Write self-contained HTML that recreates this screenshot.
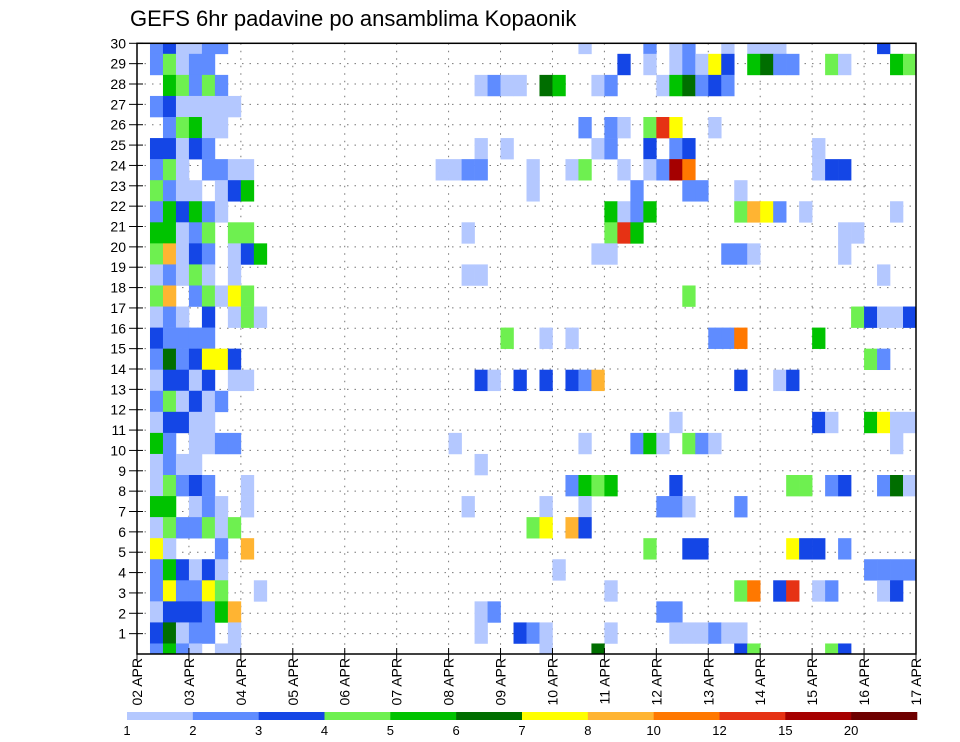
<!DOCTYPE html>
<html><head><meta charset="utf-8"><title>GEFS 6hr padavine</title>
<style>body{margin:0;background:#fff}svg{display:block;font-family:"Liberation Sans",sans-serif}</style></head>
<body>
<svg id="chart" width="960" height="742" viewBox="0 0 960 742">
<rect width="960" height="742" fill="#fff"/>
<text x="130" y="26" font-size="22" fill="#000">GEFS 6hr padavine po ansamblima Kopaonik</text>
<defs><clipPath id="pc"><rect x="137" y="43.3" width="779" height="610.7"/></clipPath></defs>
<g id="grid"></g>
<g id="cells" clip-path="url(#pc)"></g>
<rect x="137" y="43.3" width="779" height="610.7" fill="none" stroke="#000" stroke-width="1.5"/>
<g id="yaxis"></g>
<g id="xaxis"></g>
<g id="cbar"></g>
</svg>
<script>
// Ensemble rows (top to bottom), tokens "<timestep><class>"
const members = [
"1b 2c 3a 4a 5b 6b 34a 39b 41a 42b 45a 47a 48a 49a 57c",
"1b 2d 3a 4b 5b 37c 39a 41a 42b 43a 44g 45c 47e 48f 49b 50b 53d 54a 58e 59d",
"2e 3d 4b 5d 6b 26a 27b 28a 29a 31f 32e 35a 36b 40a 41e 42f 43b 44c 45b",
"1b 2c 3a 4a 5a 6a 7a",
"2b 3d 4e 5a 6a 34b 36b 37a 39d 40j 41g 44a",
"1c 2c 3a 4c 5b 26a 28a 35a 36b 39c 41b 42c 52a",
"1b 2d 3a 5b 6b 7a 8a 23a 24a 25b 26b 30a 33a 34d 37a 39a 40b 41k 42i 52a 53c 54c",
"1d 2b 3a 4a 6a 7c 8e 30a 38b 42b 43b 46a",
"1b 2e 3c 4e 5b 6a 36e 37a 38b 39e 46d 47h 48g 49b 51a 58a",
"1e 2e 3a 4b 5d 7d 8d 25a 36d 37j 38e 54a 55a",
"1d 2h 3a 4c 5b 7a 8c 9e 35a 36a 45b 46b 47a 54a",
"1a 2b 3a 4d 5a 7a 25a 26a 57a",
"1d 2h 4b 5d 6a 7g 8d 42d",
"1a 2b 3a 5c 7a 8d 9a 55d 56c 57a 58a 59c",
"1c 2b 3b 4b 5b 28d 31a 33a 44b 45b 46i 52e",
"1b 2f 3b 4c 5g 6g 7c 56d 57b",
"1a 2c 3c 4a 5c 7a 8a 26c 27a 29c 31c 33c 34b 35h 46c 49a 50c",
"1b 2d 3a 4c 5a 6b",
"1a 2c 3c 4a 5a 41a 52c 53a 56e 57g 58a 59a",
"1e 2b 4a 5a 6b 7b 24a 34a 38b 39e 40a 42d 43b 44a 58a",
"1a 2b 3a 4a 26a",
"1a 2d 3b 4c 5b 8a 33b 34e 35d 36e 41c 50d 51d 53b 54c 57b 58f 59a",
"1e 2e 4a 5b 6a 8a 25a 31a 34a 40b 41b 42a 46b",
"1a 2d 3b 4b 5d 6a 7d 30d 31g 33h 34c",
"1g 2a 6b 8h 39d 42c 43c 50g 51c 52c 54b",
"1b 2e 3c 4a 5c 6a 32a 56b 57b 58b 59b",
"1b 2g 3b 4b 5g 6d 9a 36a 46d 47i 49c 50j 52a 53b 57a 58c",
"1a 2c 3c 4c 5b 6e 7h 26a 27b 40b 41b",
"1c 2f 3a 4b 5b 7a 26a 29c 30b 31a 36a 41a 42a 43a 44b 45a 46a",
"1b 2e 3b 4a 6a 7a 31a 35f 46c 47d 53d 54c"
];
const classKeys = ["a","b","c","d","e","f","g","h","i","j","k","l"];
const classColors = ["#b4c8ff","#5f8cff","#1446e6","#6ef050","#00c300","#006e00","#ffff00","#ffb432","#ff7800","#e63214","#a50000","#6e0000"];
const colorbarLabels = ["1","2","3","4","5","6","7","8","10","12","15","20"];
const yTickLabels = ["1","2","3","4","5","6","7","8","9","10","11","12","13","14","15","16","17","18","19","20","21","22","23","24","25","26","27","28","29","30"];
const dayLabels = ["02","03","04","05","06","07","08","09","10","11","12","13","14","15","16","17"];

const NS="http://www.w3.org/2000/svg";
const X0=137,X1=916,Y0=43.3,Y1=654;
const nSteps=60;
function xScale(t){return X0+t*(X1-X0)/nSteps;}
const rowH=(Y1-Y0)/(members.length-1);
function rowY(i){return Y0+i*rowH;}
function tickY(v){return Y1-v*(Y1-Y0)/30;}
function mk(tag,attrs,parent){const e=document.createElementNS(NS,tag);for(const k in attrs)e.setAttribute(k,attrs[k]);parent.appendChild(e);return e;}

const grid=document.getElementById('grid');
for(let d=1;d<dayLabels.length-1;d++){
  const l=mk('line',{x1:xScale(d*4),x2:xScale(d*4),y1:Y0,y2:Y1,stroke:'#777','stroke-width':1,'stroke-dasharray':'1.5,6'},grid);
  
  
}
for(let v=1;v<30;v++){
  const l=mk('line',{x1:X0,x2:X1,y1:tickY(v),y2:tickY(v),stroke:'#777','stroke-width':1,'stroke-dasharray':'1.5,6'},grid);
  
  
}

const cells=document.getElementById('cells');
members.forEach((row,i)=>{
  row.split(/\s+/).filter(Boolean).forEach(tok=>{
    const t=parseInt(tok,10);const c=tok.replace(/[0-9]/g,'');
    const idx=classKeys.indexOf(c);
    const r=mk('rect',{x:xScale(t),y:rowY(i)-rowH/2,width:(X1-X0)/nSteps+0.3,height:rowH+0.3,fill:classColors[idx]},cells);
    
    
  });
});

const ya=document.getElementById('yaxis');
yTickLabels.forEach((lab,k)=>{
  const y=tickY(k+1);
  const tl=mk('line',{x1:X0-8,x2:X0+6,y1:y,y2:y,stroke:'#000','stroke-width':1},ya);
  
  
  const tx=mk('text',{x:X0-11,y:y+5,'text-anchor':'end','font-size':14,fill:'#000'},ya);
  tx.textContent=lab;
  
  
});

const xa=document.getElementById('xaxis');
dayLabels.forEach((d,k)=>{
  const x=xScale(k*4);
  const tl=mk('line',{x1:x,x2:x,y1:Y1-6,y2:Y1+6,stroke:'#000','stroke-width':1},xa);
  
  
  const tx=mk('text',{x:x+5,y:658,'text-anchor':'end','font-size':14,fill:'#000',transform:'rotate(-90 '+(x+5)+' 658)'},xa);
  tx.textContent=d+' APR';
  
  
});

const cb=document.getElementById('cbar');
const CB0=127,CB1=917,segW=(CB1-CB0)/classColors.length;
classColors.forEach((col,k)=>{
  const r=mk('rect',{x:CB0+k*segW,y:712,width:segW+0.3,height:8,fill:col},cb);
  
  
});
colorbarLabels.forEach((lab,k)=>{
  const tx=mk('text',{x:CB0+k*segW,y:735,'text-anchor':'middle','font-size':13,fill:'#000'},cb);
  tx.textContent=lab;
  
  
});
</script>
</body></html>
